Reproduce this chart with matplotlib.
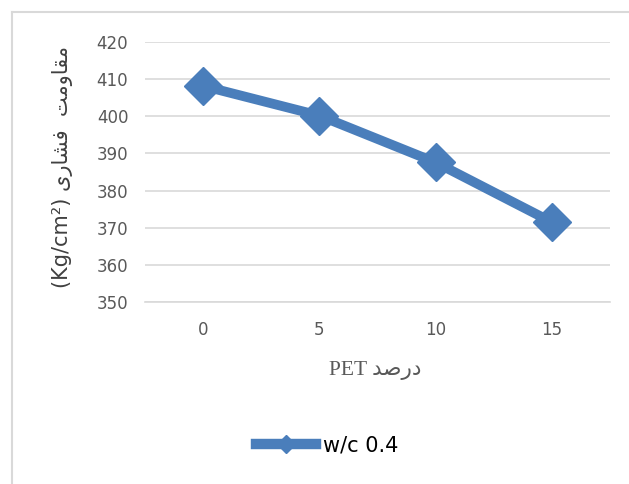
import matplotlib
matplotlib.use('Agg')
from matplotlib import pyplot as plt
from matplotlib.lines import Line2D

# === DATA === #
pet_pct = ['0', '5', '10', '15']
strength = [408.2, 400.2, 387.6, 371.5]  # Kg/cm2, w/c = 0.4
y_ticks = [350, 360, 370, 380, 390, 400, 410, 420]
series_name = 'w/c 0.4'

# Persian labels written in visual order with presentation forms
# (matplotlib does no Arabic shaping / bidi on its own)
ylabel_fa = '(Kg/cm\u00b2) \ufeef\ufead\ufe8e\ufeb8\ufed3  \ufe96\ufee3\ufeed\ufe8e\ufed8\ufee3'
xlabel_fa = 'PET \ufeaa\ufebb\ufead\ufea9'

# === STYLE === #
LineColor = '#4A7EBB'
GridColor = '#D9D9D9'
TickColor = '#595959'

fig = plt.figure(figsize=(6.29, 4.84), dpi=100)
ax = fig.add_axes([0.2305, 0.376, 0.7395, 0.537])

x = list(range(len(pet_pct)))
ax.plot(x, strength, '-D', color=LineColor, linewidth=7, markersize=19,
        markeredgecolor=LineColor, solid_joinstyle='round', zorder=3)

ax.set_xlim(-0.5, len(pet_pct) - 0.5)
ax.set_ylim(y_ticks[0], y_ticks[-1])
ax.set_xticks(x)
ax.set_xticklabels(pet_pct)
ax.set_yticks(y_ticks)
ax.tick_params(length=0, labelsize=12, colors=TickColor, pad=12)
ax.tick_params(axis='x', pad=14)
for lab in ax.get_xticklabels() + ax.get_yticklabels():
    lab.set_color(TickColor)
ax.grid(axis='y', color=GridColor, linewidth=1.2)
ax.set_axisbelow(True)
for side in ['top', 'right', 'left']:
    ax.spines[side].set_visible(False)
ax.spines['bottom'].set_color(GridColor)
ax.spines['bottom'].set_linewidth(1.2)

fig.text(0.099, 0.655, ylabel_fa, rotation=90, ha='center', va='center',
         fontsize=15, color='#404040', family=['DejaVu Sans'])
fig.text(0.596, 0.235, xlabel_fa, ha='center', va='center', fontsize=15.5,
         color=TickColor, family=['Liberation Serif', 'DejaVu Sans'])

# legend at the bottom
handle = Line2D([], [], color=LineColor, linewidth=7.5, marker='D', markersize=9,
                markeredgecolor=LineColor)
fig.legend([handle], [series_name], loc='center', bbox_to_anchor=(0.52, 0.08),
           frameon=False, fontsize=15, handlelength=2.9, handletextpad=0.3)

# chart frame (light gray, top and left edges)
fig.add_artist(Line2D([12 / 629, 1.0], [1 - 12 / 484, 1 - 12 / 484],
                      transform=fig.transFigure, color='#D9D9D9', linewidth=1.5))
fig.add_artist(Line2D([12 / 629, 12 / 629], [0.0, 1 - 12 / 484],
                      transform=fig.transFigure, color='#D9D9D9', linewidth=1.5))

plt.savefig('out.png', dpi=100)
